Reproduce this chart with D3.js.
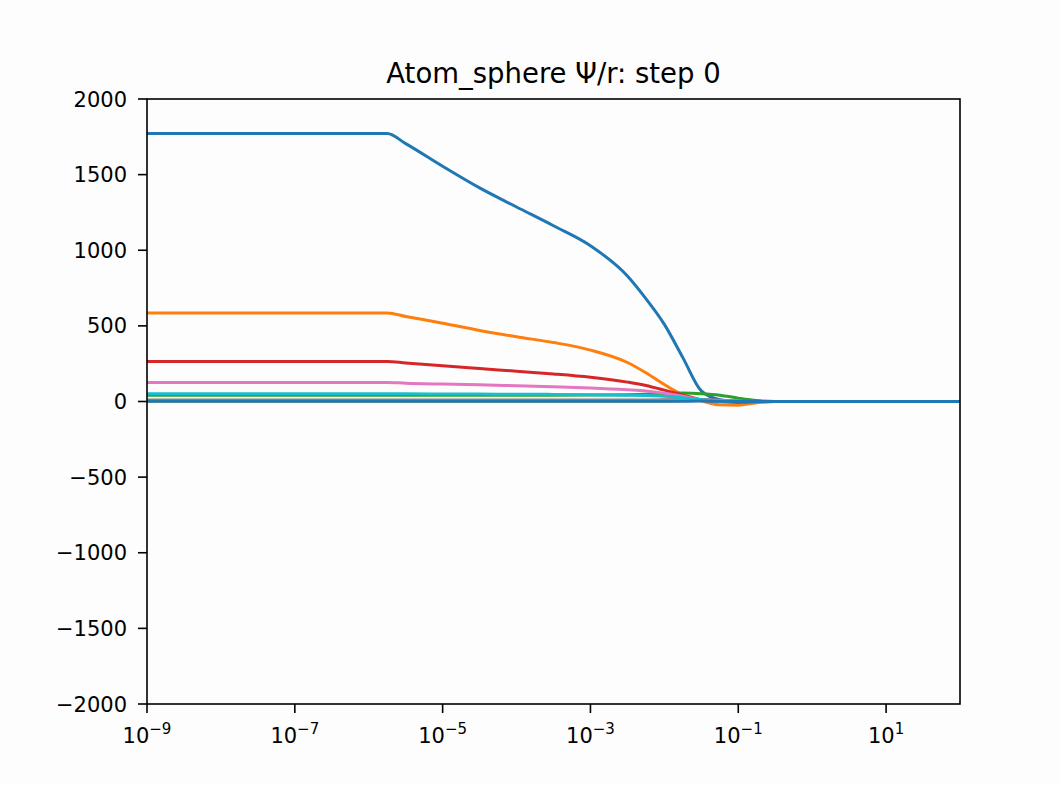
<!DOCTYPE html>
<html>
<head>
<meta charset="utf-8">
<script src="https://cdn.jsdelivr.net/npm/d3@7"></script>
<style>
  body { margin: 0; background: #fdfdfd; }
  svg { display: block; font-family: "DejaVu Sans", sans-serif; }
</style>
</head>
<body>
<div id="stage"></div>
<script>
// radius grid, as log10(r)
const logR = [-9, -5.75, -5.5, -5, -4.5, -4, -3.5, -3, -2.5, -2.25, -2, -1.75, -1.5, -1.25, -1, -0.75, -0.5, 0, 2];

// psi/r per state
const psiC0 = [1772, 1772, 1705, 1555, 1412, 1286, 1162, 1030, 830, 680, 510, 290, 70, 12, 0, 0, 0, 0, 0];
const psiC1 = [585, 585, 562, 518, 470, 428, 390, 340, 258, 190, 112, 45, 5, -22, -25, -8, 0, 0, 0];
const psiC2 = [42, 42, 42, 42, 42, 42, 42, 43, 45, 48, 52, 56, 52, 42, 22, 6, 0, 0, 0];
const psiC3 = [265, 265, 255, 236, 218, 200, 182, 160, 128, 106, 75, 42, 12, 2, 0, 0, 0, 0, 0];
const psiC4 = [6, 6, 6, 6, 6, 6, 6, 6, 7, 7, 8, 10, 10, 8, 3, 0, 0, 0, 0];
const psiC5 = [3, 3, 3, 3, 3, 3, 3, 3, 3, 3, 4, 6, 8, 0, -6, -2, 0, 0, 0];
const psiC6 = [126, 126, 121, 115, 110, 104, 98, 90, 78, 70, 55, 35, 12, 3, 0, 0, 0, 0, 0];
const psiC7 = [10, 10, 10, 10, 10, 10, 10, 10, 10, 10, 11, 13, 14, 8, 2, 0, 0, 0, 0];
const psiC8 = [2, 2, 2, 2, 2, 2, 2, 2, 2, 2, 3, 5, 7, 6, 2, 0, 0, 0, 0];
const psiC9 = [52, 52, 51, 50, 49, 48, 47, 45, 42, 40, 35, 25, 12, 3, 0, 0, 0, 0, 0];
const psiC10 = [1, 1, 1, 1, 1, 1, 1, 1, 1, 1, 1, 2, 3, 1, 0, 0, 0, 0, 0];

const tab10 = ['#1f77b4', '#ff7f0e', '#2ca02c', '#d62728', '#9467bd',
               '#8c564b', '#e377c2', '#7f7f7f', '#bcbd22', '#17becf'];
const states = [psiC0, psiC1, psiC2, psiC3, psiC4, psiC5, psiC6, psiC7, psiC8, psiC9, psiC10];

const xExps = [-9, -7, -5, -3, -1, 1];
const yTicks = [-2000, -1500, -1000, -500, 0, 500, 1000, 1500, 2000];

const W = 1060, H = 785;
const axL = 147, axR = 960, axT = 99, axB = 704;

const svg = d3.select('#stage').append('svg')
  .attr('width', W)
  .attr('height', H);

svg.append('rect')
  .attr('width', W)
  .attr('height', H)
  .attr('fill', '#fdfdfd');

const x = d3.scaleLog().domain([1e-9, 1e2]).range([axL, axR]);
const y = d3.scaleLinear().domain([-2000, 2000]).range([axB, axT]);

svg.append('clipPath').attr('id', 'clip')
  .append('rect')
  .attr('x', axL).attr('y', axT)
  .attr('width', axR - axL).attr('height', axB - axT);

const line = d3.line()
  .x((d, i) => x(Math.pow(10, logR[i])))
  .y(d => y(d))
  .curve(d3.curveMonotoneX);

const g = svg.append('g').attr('clip-path', 'url(#clip)');
states.forEach((vals, i) => {
  g.append('path')
    .attr('d', line(vals))
    .attr('fill', 'none')
    .attr('stroke', tab10[i % 10])
    .attr('stroke-width', 3)
    .attr('stroke-linejoin', 'round')
    .attr('stroke-linecap', 'round');
});

// frame
svg.append('rect')
  .attr('x', axL).attr('y', axT)
  .attr('width', axR - axL).attr('height', axB - axT)
  .attr('fill', 'none')
  .attr('stroke', '#000')
  .attr('stroke-width', 1.6);

// y axis
const minus = s => s.replace('-', '\u2212');
yTicks.forEach(v => {
  svg.append('line')
    .attr('x1', axL - 9).attr('x2', axL)
    .attr('y1', y(v)).attr('y2', y(v))
    .attr('stroke', '#000').attr('stroke-width', 1.6);
  svg.append('text')
    .attr('x', axL - 20)
    .attr('y', y(v))
    .attr('dy', '0.36em')
    .attr('text-anchor', 'end')
    .style('font-size', '21px')
    .attr('fill', '#000')
    .text(minus(String(v)));
});

// x axis
xExps.forEach(e => {
  const px = x(Math.pow(10, e));
  svg.append('line')
    .attr('x1', px).attr('x2', px)
    .attr('y1', axB).attr('y2', axB + 9)
    .attr('stroke', '#000').attr('stroke-width', 1.6);
  const t = svg.append('text')
    .attr('x', px)
    .attr('y', axB + 39)
    .attr('text-anchor', 'middle')
    .attr('fill', '#000')
    .style('font-size', '21px');
  t.append('tspan').text('10');
  t.append('tspan')
    .attr('dy', -9)
    .style('font-size', '15px')
    .text(minus(String(e)));
});

// title
svg.append('text')
  .attr('x', (axL + axR) / 2)
  .attr('y', 83)
  .attr('text-anchor', 'middle')
  .attr('fill', '#000')
  .style('font-size', '27.5px')
  .text('Atom_sphere \u03a8/r: step 0');
</script>
</body>
</html>
